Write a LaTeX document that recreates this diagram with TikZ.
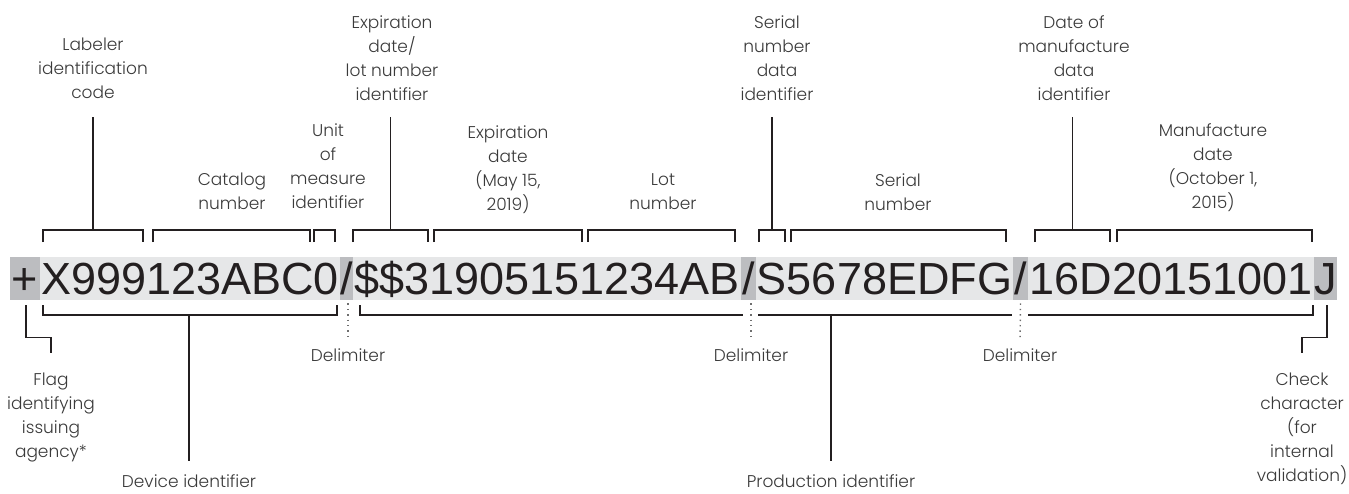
\documentclass[tikz,border=0pt]{standalone}
\usepackage{fontspec}
\setmainfont{Liberation Sans}
\newfontfamily\lblfont{Poppins Light}
\usetikzlibrary{positioning}
\definecolor{ink}{HTML}{231F20}
\definecolor{cell}{HTML}{E6E7E8}
\definecolor{mark}{HTML}{BCBDC0}
\definecolor{note}{HTML}{3A3A3A}
\definecolor{dots}{HTML}{6E6E6E}
\tikzset{
  chars/.style={inner sep=0pt,minimum height=21.5pt,text height=16.1pt,text depth=0pt,font=\fontsize{22.5}{27}\selectfont,text=ink},
  cellbox/.style={chars,fill=cell},
  markbox/.style={chars,fill=mark},
  tag/.style={inner sep=0pt,align=center,text=note,anchor=north,font=\lblfont\fontsize{8.5}{12}\selectfont},
  brace/.style={draw=ink,line width=.6pt},
  conn/.style={draw=ink,line width=.6pt},
  delim/.style={draw=dots,line width=.7pt,dotted}
}

\begin{document}
\begin{tikzpicture}[x=.5pt,y=-.5pt]
\useasboundingbox (0,0) rectangle (1349,493);
% the printed string
\node[markbox,minimum width=15pt] (flg) at (25,278.5) {+};
\node[cellbox,minimum width=150pt] (di) at (190,278.5) {X999123ABC0};
\node[markbox,minimum width=6.5pt] (d1) at (346.5,278.5) {/};
\node[cellbox,minimum width=194pt] (pa) at (547,278.5) {\$\$31905151234AB};
\node[markbox,minimum width=7.5pt] (d2) at (748.5,278.5) {/};
\node[cellbox,minimum width=128.5pt] (pb) at (884.5,278.5) {S5678EDFG};
\node[markbox,minimum width=7.5pt] (d3) at (1020.5,278.5) {/};
\node[cellbox,minimum width=143pt] (pc) at (1171,278.5) {16D20151001};
\node[markbox,minimum width=11.5pt] (chk) at (1325.5,278.5) {J};
% upper brackets
\foreach \a/\b/\n in {43/143/labb,153/310/catb,314/335/uomb,353/428/edib,434/582/exdb,588/735/lotb,759/785/sdib,791/1006/serb,1035/1110/mdib,1117/1312/mfdb}{
  \draw[brace] (\a,242) |- (\b,230) -- (\b,242);
  \coordinate (\n) at ({(\a+\b)/2},230);
}
% upper labels
\node[tag] (lab) at (93,38) {Labeler\\identification\\code};
\node[tag] (cat) at (232,173) {Catalog\\number};
\node[tag] (uom) at (328,123) {Unit\\of\\measure\\identifier};
\node[tag] (edi) at (392,15) {Expiration\\date/\\lot number\\identifier};
\node[tag] (exd) at (508,125) {Expiration\\date\\(May 15,\\2019)};
\node[tag] (lot) at (663,173) {Lot\\number};
\node[tag] (sdi) at (777,15) {Serial\\number\\data\\identifier};
\node[tag] (ser) at (898,173) {Serial\\number};
\node[tag] (mdi) at (1074,15) {Date of\\manufacture\\data\\identifier};
\node[tag] (mfd) at (1213,123) {Manufacture\\date\\(October 1,\\2015)};
\draw[conn] (labb |- 0,117) -- (labb);
\draw[conn] (edib |- 0,117) -- (edib);
\draw[conn] (sdib |- 0,117) -- (sdib);
\draw[conn] (mdib |- 0,117) -- (mdib);
% lower brackets
\draw[brace] (43,305) |- (337,315) -- (337,305);
\draw[brace] (360,305) |- (743,315);
\draw[brace] (758,315) -- (1012,315);
\draw[brace] (1028,315) -| (1313,305);
\coordinate (dib) at (189,315);
\coordinate (pib) at (831,315);
% lower labels
\node[tag] (flag) at (51,373) {Flag\\identifying\\issuing\\agency*};
\node[tag] (dev) at (189,474) {Device identifier};
\node[tag] (del1) at (348,348) {Delimiter};
\node[tag] (del2) at (751,348) {Delimiter};
\node[tag] (del3) at (1020,348) {Delimiter};
\node[tag] (prod) at (831,474) {Production identifier};
\node[tag] (cc) at (1302,373) {Check\\character\\(for\\internal\\validation)};
\draw[conn,shorten <=2.5pt,shorten >=10pt] ([xshift=.5pt]flg.south) -- ++(0,37) -| (flag.north);
\draw[conn,shorten <=2.5pt,shorten >=10pt] ([xshift=.75pt]chk.south) -- ++(0,37) -| (cc.north);
\draw[conn,shorten >=6.5pt] (dib) -- (dev.north);
\draw[conn,shorten >=6.5pt] (pib) -- (prod.north);
\draw[delim,shorten <=1.5pt,shorten >=5.5pt] ([xshift=.75pt]d1.south) -- (del1.north);
\draw[delim,shorten <=1.5pt,shorten >=5.5pt] ([xshift=1.25pt]d2.south) -- (del2.north);
\draw[delim,shorten <=1.5pt,shorten >=5.5pt] (d3.south) -- (del3.north);
\end{tikzpicture}
\end{document}
